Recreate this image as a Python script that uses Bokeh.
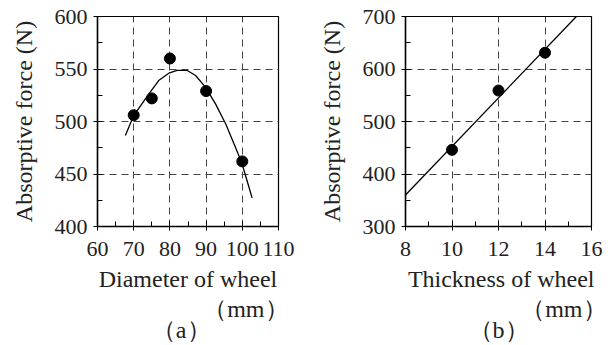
from bokeh.plotting import figure
from bokeh.layouts import row
from bokeh.models import Title, FixedTicker, Range1d
from bokeh.embed import file_html
from bokeh.resources import INLINE

# ---- data (a) ----
diam_x = [70, 75, 80, 90, 100]
diam_y = [506, 522, 560, 529, 462]
diam_fit_x = [67.7, 70.0, 74.2, 76.9, 79.7, 82.0, 84.8, 87.1, 89.8, 92.6, 95.4, 97.7, 99.8, 101.3, 102.7]
diam_fit_y = [486.7, 505.7, 526.4, 539.0, 546.0, 548.6, 548.6, 543.8, 532.7, 516.8, 497.8, 478.7, 461.3, 443.8, 427.3]
diam_xticks = [60, 70, 80, 90, 100, 110]
diam_yticks = [400, 450, 500, 550, 600]

# ---- data (b) ----
thick_x = [10, 12, 14]
thick_y = [446, 559, 631]
thick_fit_x = [8.0, 15.35]
thick_fit_y = [360, 700]
thick_xticks = [8, 10, 12, 14, 16]
thick_yticks = [300, 400, 500, 600, 700]

FONT = "Liberation Serif"
TICK_FS = "22px"
LAB_FS = "24px"
TXT = "#222222"


def make_panel(width, bl, br, xr, yr, xt, yt, xminor, yminor, xlabel, xlab_align, xlab_off,
               mm_off, tag, tag_align, tag_off):
    p = figure(width=width, height=345, output_backend="svg", toolbar_location=None,
               x_range=Range1d(*xr), y_range=Range1d(*yr),
               min_border_left=bl, min_border_right=br, min_border_top=16, min_border_bottom=119)
    p.outline_line_color = "black"
    p.outline_line_width = 1.2
    p.background_fill_color = "white"
    p.border_fill_color = "white"
    for ax, ticks, mn in ((p.xaxis[0], xt, xminor), (p.yaxis[0], yt, yminor)):
        ax.ticker = FixedTicker(ticks=ticks, minor_ticks=mn)
        ax.axis_line_color = "black"
        ax.axis_line_width = 1.5
        ax.major_tick_line_color = "black"
        ax.minor_tick_line_color = "black"
        ax.major_tick_in = 5
        ax.major_tick_out = 4
        ax.minor_tick_in = 5
        ax.minor_tick_out = 0
        ax.major_label_text_font = FONT
        ax.major_label_text_font_size = TICK_FS
        ax.major_label_text_color = TXT
    p.xaxis.major_label_standoff = 11
    p.yaxis.major_label_standoff = 6
    p.yaxis.axis_label = "Absorptive force (N)"
    p.yaxis.axis_label_text_font = FONT
    p.yaxis.axis_label_text_font_size = LAB_FS
    p.yaxis.axis_label_text_font_style = "normal"
    p.yaxis.axis_label_text_color = TXT
    p.yaxis.axis_label_standoff = 15
    for g in (p.xgrid[0], p.ygrid[0]):
        g.grid_line_color = "#444444"
        g.grid_line_dash = "7 5"
        g.grid_line_width = 1
    p.xgrid.ticker = FixedTicker(ticks=xt)
    p.ygrid.ticker = FixedTicker(ticks=yt)
    for txt, al, off, so in ((xlabel, xlab_align, xlab_off, 11), ("（mm）", "right", mm_off, -7),
                             (tag, tag_align, tag_off, -7)):
        p.add_layout(Title(text=txt, align=al, offset=off, standoff=so, text_font=FONT,
                           text_font_size=LAB_FS, text_font_style="normal", text_color=TXT), "below")
    return p


pa = make_panel(308, 97, 30, (60, 110), (400, 600), diam_xticks, diam_yticks,
                [65, 75, 85, 95, 105], [425, 475, 525, 575],
                "Diameter of wheel", "center", 0, -10, "（a）", "right", 68)
pa.line(diam_fit_x, diam_fit_y, line_color="black", line_width=1.3)
pa.scatter(diam_x, diam_y, size=11, color="black")

pb = make_panel(305, 97, 22, (8, 16), (300, 700), thick_xticks, thick_yticks,
                [9, 11, 13, 15], [350, 450, 550, 650],
                "Thickness of wheel", "right", -3, -15, "（b）", "center", 0)
pb.line(thick_fit_x, thick_fit_y, line_color="black", line_width=1.3)
pb.scatter(thick_x, thick_y, size=11, color="black")

layout = row(pa, pb, spacing=0)
open("out.html", "w").write(file_html(layout, INLINE))
